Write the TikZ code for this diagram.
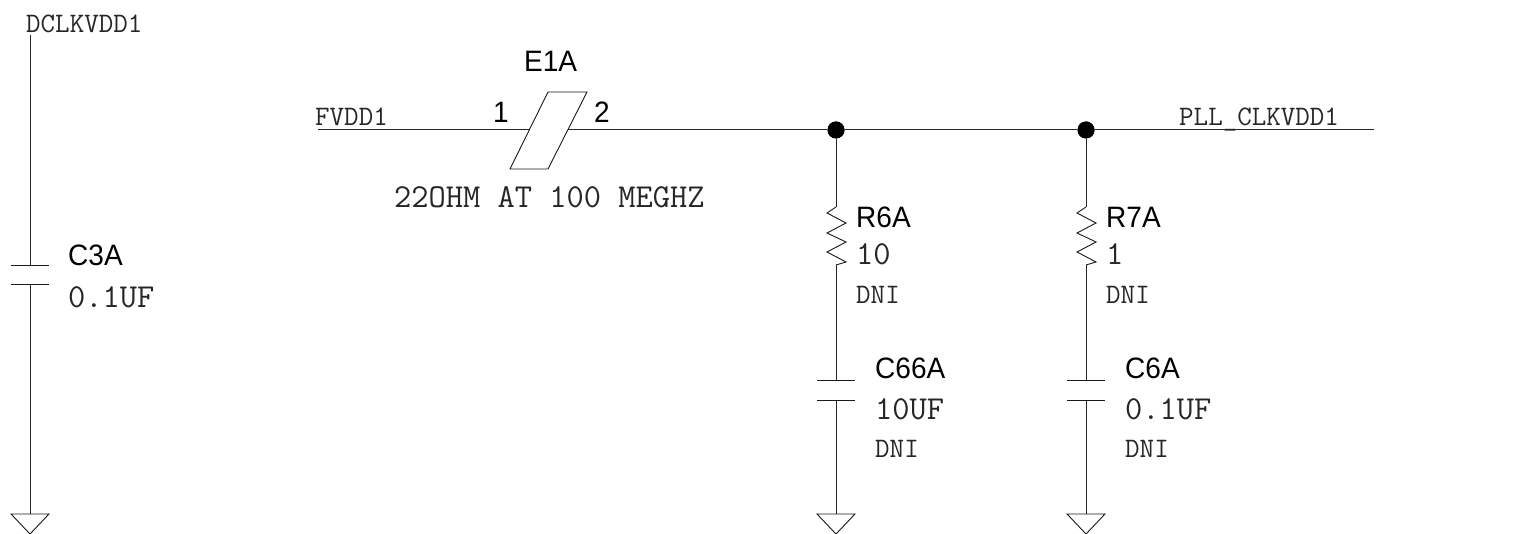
\documentclass[tikz,border=0pt]{standalone}
\usepackage{fontspec}
\setmainfont{Liberation Sans}[FakeStretch=0.95]
\tikzset{
  wire/.style={line width=1pt,black!85,line join=miter},
  part/.style={line width=0.9pt,black!90},
  refd/.style={inner sep=0pt,anchor=base west,font=\fontsize{29.5}{29.5}\selectfont},
  valsm/.style={inner sep=0pt,anchor=base west,font=\ttfamily\fontsize{28.2}{28.2}\selectfont,black!85},
  vallg/.style={inner sep=0pt,anchor=base west,font=\ttfamily\fontsize{33.5}{33.5}\selectfont,black!85},
  junction/.style={circle,fill=black,inner sep=0pt,minimum size=17pt},
}
\newcommand{\gndsym}[1]{\draw[part] (#1) ++(-19,0) -- ++(38,0) -- ++(-19,20) -- cycle;}
\newcommand{\capplates}[2]{%
  \draw[part] (#1) ++(-19,0) -- ++(38,0);
  \draw[part] (#2) ++(-19,0) -- ++(38,0);}
\newcommand{\reszig}[2]{\draw[part] (#1) -- ++(-9,6) -- ++(19,10) -- ++(-19,10) -- ++(19,9) -- ++(-19,10) -- ++(19,10) -- (#2);}
\begin{document}
\begin{tikzpicture}[x=1pt,y=-1pt]
\useasboundingbox (0,0) rectangle (1534,534);
% coordinates
\coordinate (dtop) at (30,35);
\coordinate (c3t) at (30,265);
\coordinate (c3b) at (30,284);
\coordinate (g1) at (30,514);
\coordinate (fstart) at (318,130);
\coordinate (fend) at (1374,130);
\coordinate (bl) at (510,169);
\coordinate (br) at (548,169);
\coordinate (tr) at (587,92);
\coordinate (tl) at (548,92);
\node[junction] (j1) at (836,130) {};
\node[junction] (j2) at (1086,130) {};
\coordinate (r6t) at (836,207);
\coordinate (r6b) at (836,265);
\coordinate (c66t) at (836,380);
\coordinate (c66b) at (836,400);
\coordinate (g2) at (836,514);
\coordinate (r7t) at (1086,207);
\coordinate (r7b) at (1086,265);
\coordinate (c6t) at (1086,380);
\coordinate (c6b) at (1086,400);
\coordinate (g3) at (1086,514);
% wires
\draw[wire] (dtop) -- (c3t);
\draw[wire] (c3b) -- (g1);
\draw[wire] (fstart) -- (j1) -- (j2) -- (fend);
\draw[wire] (j1) -- (r6t);
\draw[wire] (r6b) -- (c66t);
\draw[wire] (c66b) -- (g2);
\draw[wire] (j2) -- (r7t);
\draw[wire] (r7b) -- (c6t);
\draw[wire] (c6b) -- (g3);
\node[junction] at (j1) {};
\node[junction] at (j2) {};
% parts
\filldraw[part,fill=white] (bl) -- (br) -- (tr) -- (tl) -- cycle;
\capplates{c3t}{c3b}
\capplates{c66t}{c66b}
\capplates{c6t}{c6b}
\reszig{r6t}{r6b}
\reszig{r7t}{r7b}
\gndsym{g1}
\gndsym{g2}
\gndsym{g3}
% labels
\node[valsm] (ldclk) at (26,33) {DCLKVDD1};
\node[valsm] (lfvdd) at (315,126) {FVDD1};
\node[valsm] (lpll) at (1179,126) {PLL\_CLKVDD1};
\node[refd] (le1a) at (524,72) {E1A};
\node[refd] (l1) at (493,123) {1};
\node[refd] (l2) at (594,123) {2};
\node[vallg] (l22) at (394,208) {22OHM AT 100 MEGHZ};
\node[refd] (lc3) at (68,266) {C3A};
\node[vallg] (lc3v) at (68,308) {0.1UF};
\node[refd] (lr6) at (856,228) {R6A};
\node[vallg] (lr6v) at (856,265) {10};
\node[valsm] (lr6d) at (856,304) {DNI};
\node[refd] (lr7) at (1106,228) {R7A};
\node[vallg] (lr7v) at (1106,265) {1};
\node[valsm] (lr7d) at (1106,304) {DNI};
\node[refd] (lc66) at (875,379) {C66A};
\node[vallg] (lc66v) at (875,420) {10UF};
\node[valsm] (lc66d) at (875,457) {DNI};
\node[refd] (lc6) at (1125,379) {C6A};
\node[vallg] (lc6v) at (1125,420) {0.1UF};
\node[valsm] (lc6d) at (1125,457) {DNI};
\end{tikzpicture}
\end{document}
